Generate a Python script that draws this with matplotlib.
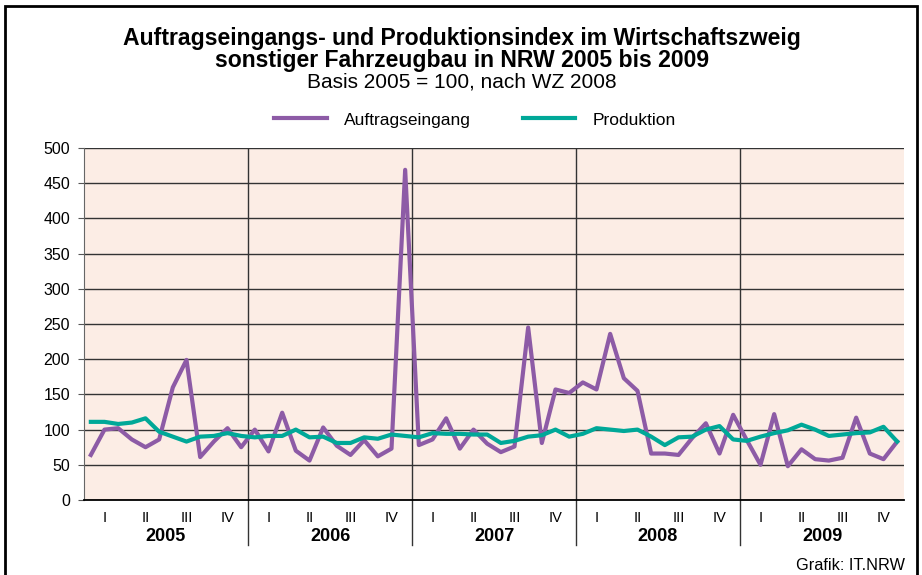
import numpy as np
import matplotlib
matplotlib.use('Agg')
import matplotlib.pyplot as plt
from matplotlib.patches import Rectangle
import matplotlib.transforms as mtransforms

plt.rcParams['font.family'] = ['Liberation Sans', 'DejaVu Sans']

years = ['2005', '2006', '2007', '2008', '2009']
quarters = ['I', 'II', 'III', 'IV']

# monthly index values, 2005 = 100
auftrag = [64, 100, 102, 86, 75, 86, 160, 199, 61, 83, 102, 75,
           100, 69, 124, 70, 56, 103, 77, 64, 85, 62, 73, 469,
           78, 86, 116, 73, 100, 80, 68, 76, 245, 81, 157, 152,
           167, 157, 236, 173, 155, 66, 66, 64, 88, 109, 66, 121,
           85, 50, 122, 48, 72, 58, 56, 60, 117, 66, 58, 83]
produktion = [111, 111, 108, 110, 116, 97, 90, 83, 90, 91, 95, 91,
              89, 91, 91, 100, 89, 90, 81, 81, 89, 87, 93, 91,
              89, 95, 94, 94, 93, 93, 81, 84, 90, 92, 100, 90,
              94, 102, 100, 98, 100, 90, 78, 89, 90, 100, 105, 86,
              84, 90, 95, 99, 107, 100, 91, 93, 95, 96, 104, 83]

purple = '#8d5ba6'
teal = '#00a898'
bg = '#fcede5'

fig = plt.figure(figsize=(9.22, 5.75), dpi=100)
ax = fig.add_axes([84/922, 1-500/575, 820/922, 352/575])
ax.set_facecolor(bg)

x = np.arange(len(auftrag)) + 0.5
ax.plot(x, auftrag, color=purple, lw=3, label='Auftragseingang', zorder=3)
ax.plot(x, produktion, color=teal, lw=3, label='Produktion', zorder=4)

ax.set_xlim(0, 60)
ax.set_ylim(0, 500)
ax.set_yticks(range(0, 501, 50))
ax.tick_params(axis='y', labelsize=11.5, length=4, color='#555555', pad=6)
ax.yaxis.grid(True, color='#333333', lw=1)
ax.set_axisbelow(True)

for s in ['top', 'right']:
    ax.spines[s].set_visible(False)
ax.spines['left'].set_color('#666666')
ax.spines['bottom'].set_color('black')
ax.spines['bottom'].set_linewidth(1.3)

# year boundaries inside the plot
for k in range(1, 5):
    ax.axvline(12 * k, color='#333333', lw=1, zorder=2)

# quarter labels
qpos = [3 * i + 1.5 for i in range(20)]
ax.set_xticks(qpos)
ax.set_xticklabels(quarters * 5)
ax.tick_params(axis='x', length=0, labelsize=10.5, pad=8)

trans = mtransforms.blended_transform_factory(ax.transData, ax.transAxes)
for k, yr in enumerate(years):
    ax.text(12 * k + 6, -0.105, yr, transform=trans, ha='center', va='center',
            fontsize=13, fontweight='bold')
for k in range(1, 5):
    ax.plot([12 * k, 12 * k], [0, -0.128], transform=trans, color='#333333',
            lw=1, clip_on=False)

fig.text(462/922, 1-38/575, 'Auftragseingangs- und Produktionsindex im Wirtschaftszweig',
         ha='center', va='center', fontsize=16.6, fontweight='bold')
fig.text(462/922, 1-60/575, 'sonstiger Fahrzeugbau in NRW 2005 bis 2009',
         ha='center', va='center', fontsize=16.6, fontweight='bold')
fig.text(462/922, 1-82/575, 'Basis 2005 = 100, nach WZ 2008',
         ha='center', va='center', fontsize=15)

fig.legend(loc='center', bbox_to_anchor=(475/922, 1-120/575), ncol=2,
           frameon=False, fontsize=12.5, handlelength=3.0, columnspacing=3.0,
           handletextpad=1.0)

fig.text(905/922, 1-566/575, 'Grafik: IT.NRW', ha='right', va='center', fontsize=11.7)

fig.patches.append(Rectangle((5/922, -0.1), 912/922, 1.1 - 6/575,
                             transform=fig.transFigure, fill=False,
                             edgecolor='black', lw=2))

fig.savefig('out.png', dpi=100)
